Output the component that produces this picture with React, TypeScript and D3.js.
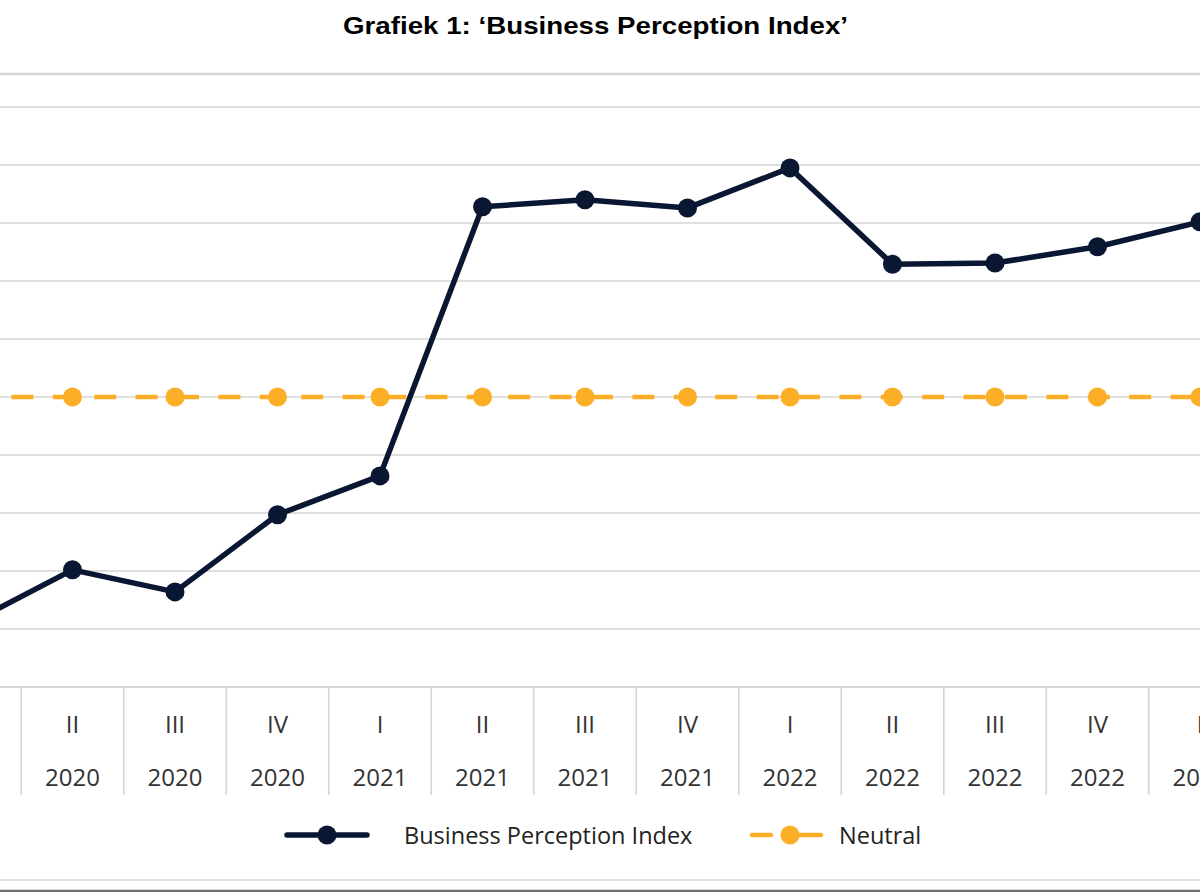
import React from "react";
import * as d3 from "d3";

const quarters = ["I", "II", "III", "IV", "I", "II", "III", "IV", "I", "II", "III", "IV", "I"];
const years = ["2020", "2020", "2020", "2020", "2021", "2021", "2021", "2021", "2022", "2022", "2022", "2022", "2023"];
const bpiValues = [61.0, 70.2, 66.4, 79.7, 86.4, 132.8, 134.0, 132.6, 139.5, 122.9, 123.1, 125.9, 130.2];
const neutralValues = [100, 100, 100, 100, 100, 100, 100, 100, 100, 100, 100, 100, 100];
const yTicks = [50, 60, 70, 80, 90, 100, 110, 120, 130, 140, 150];

const W = 1200;
const H = 892;
const NAVY = "#0a1733";
const ORANGE = "#fdae27";
const GRID = "#d4d4d4";
const FONT = "'Open Sans', 'Noto Sans', sans-serif";

export default function App() {
  const keys = quarters.map((q, i) => `${q}-${years[i]}`);
  const step = 102.5;
  const x0 = -30;
  const x = d3
    .scaleBand<string>()
    .domain(keys)
    .range([x0 - step / 2, x0 - step / 2 + step * keys.length])
    .padding(0);
  const cx = (i: number) => (x(keys[i]) as number) + x.bandwidth() / 2;
  const y = d3.scaleLinear().domain([50, 150]).range([687, 107]);

  const line = d3
    .line<number>()
    .x((_, i) => cx(i))
    .y((d) => y(d));

  const boundaries = keys.map((k) => x(k) as number).concat([(x(keys[keys.length - 1]) as number) + x.bandwidth()]);

  return (
    <div style={{ position: "fixed", left: 0, top: 0, width: W, height: H, background: "#fff" }}>
      <svg width={W} height={H} style={{ display: "block" }}>
        <rect x={0} y={0} width={W} height={H} fill="#fff" />
        <text
          x={595.5}
          y={25}
          textAnchor="middle"
          dominantBaseline="central"
          fontFamily="'Liberation Sans', Arial, sans-serif"
          fontWeight="bold"
          fontSize={24}
          textLength={505}
          lengthAdjust="spacingAndGlyphs"
          fill="#000"
        >
          Grafiek 1: ‘Business Perception Index’
        </text>

        {/* top frame line */}
        <line x1={0} x2={W} y1={74} y2={74} stroke={GRID} strokeWidth={2.5} />

        {/* gridlines */}
        {yTicks.map((t) => (
          <line key={t} x1={0} x2={W} y1={y(t)} y2={y(t)} stroke={GRID} strokeWidth={t === 50 ? 2 : 1.6} />
        ))}

        {/* category separators */}
        {boundaries.map((b, i) => (
          <line key={i} x1={b} x2={b} y1={y(50)} y2={795} stroke={GRID} strokeWidth={1.6} />
        ))}

        {/* category labels (only those inside the visible frame) */}
        {keys.map((k, i) =>
          cx(i) < 0 ? null : (
            <g key={k}>
              <text x={cx(i)} y={723} textAnchor="middle" dominantBaseline="central" fontFamily={FONT} fontSize={24} fill="#333">
                {quarters[i]}
              </text>
              <text x={cx(i)} y={776} textAnchor="middle" dominantBaseline="central" fontFamily={FONT} fontSize={24} fill="#333">
                {years[i]}
              </text>
            </g>
          )
        )}

        {/* neutral series */}
        <path d={line(neutralValues) || ""} fill="none" stroke={ORANGE} strokeWidth={4.5} strokeDasharray="22 19.4" />
        {neutralValues.map((v, i) => (
          <circle key={i} cx={cx(i)} cy={y(v)} r={9.5} fill={ORANGE} />
        ))}

        {/* BPI series */}
        <path d={line(bpiValues) || ""} fill="none" stroke={NAVY} strokeWidth={5.5} strokeLinejoin="round" />
        {bpiValues.map((v, i) => (
          <circle key={i} cx={cx(i)} cy={y(v)} r={9.5} fill={NAVY} />
        ))}

        {/* legend */}
        <line x1={287} x2={367} y1={835} y2={835} stroke={NAVY} strokeWidth={5.5} strokeLinecap="round" />
        <circle cx={327} cy={835} r={9.5} fill={NAVY} />
        <text x={404} y={835} dominantBaseline="central" fontFamily={FONT} fontSize={23.5} fill="#222">
          Business Perception Index
        </text>
        <line x1={752} x2={771} y1={835} y2={835} stroke={ORANGE} strokeWidth={4.5} strokeLinecap="round" />
        <line x1={790} x2={821} y1={835} y2={835} stroke={ORANGE} strokeWidth={4.5} strokeLinecap="round" />
        <circle cx={790} cy={835} r={9.5} fill={ORANGE} />
        <text x={839} y={835} dominantBaseline="central" fontFamily={FONT} fontSize={23.5} fill="#222">
          Neutral
        </text>

        {/* bottom borders */}
        <line x1={0} x2={W} y1={880} y2={880} stroke={GRID} strokeWidth={1.5} />
        <line x1={0} x2={W} y1={891} y2={891} stroke="#6e6e6e" strokeWidth={2.5} />
      </svg>
    </div>
  );
}
